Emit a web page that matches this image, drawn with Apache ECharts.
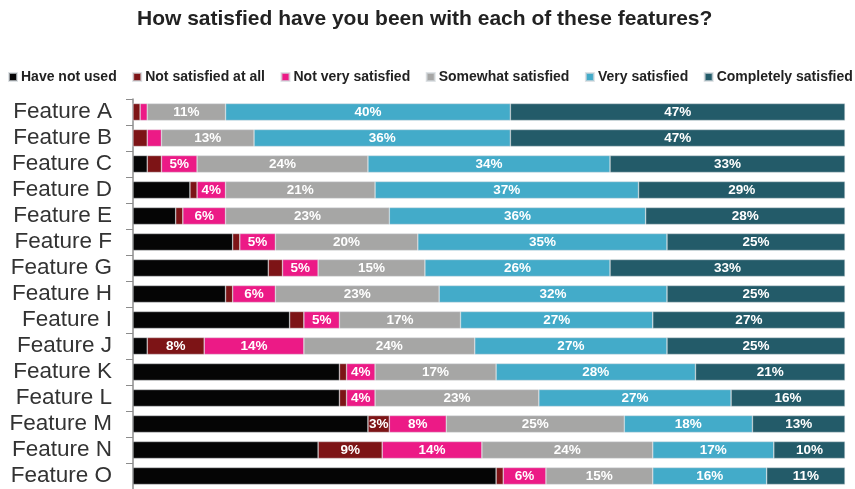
<!DOCTYPE html>
<html>
<head>
<meta charset="utf-8">
<script src="https://cdn.jsdelivr.net/npm/echarts@6/dist/echarts.min.js"></script>
<style>html,body{margin:0;padding:0;background:#fff;}#c{width:855px;height:489px;}</style>
</head>
<body>
<div id="c"></div>
<script>
const categories = ['Feature A','Feature B','Feature C','Feature D','Feature E','Feature F','Feature G','Feature H','Feature I','Feature J','Feature K','Feature L','Feature M','Feature N','Feature O'];
const seriesNames = ['Have not used','Not satisfied at all','Not very satisfied','Somewhat satisfied','Very satisfied','Completely satisfied'];
const haveNotUsed =        [0, 0, 2, 8, 6, 14, 19, 13, 22, 2, 29, 29, 33, 26, 51];
const notSatisfiedAtAll =  [1, 2, 2, 1, 1, 1, 2, 1, 2, 8, 1, 1, 3, 9, 1];
const notVerySatisfied =   [1, 2, 5, 4, 6, 5, 5, 6, 5, 14, 4, 4, 8, 14, 6];
const somewhatSatisfied =  [11, 13, 24, 21, 23, 20, 15, 23, 17, 24, 17, 23, 25, 24, 15];
const verySatisfied =      [40, 36, 34, 37, 36, 35, 26, 32, 27, 27, 28, 27, 18, 17, 16];
const completelySatisfied =[47, 47, 33, 29, 28, 25, 33, 25, 27, 25, 21, 16, 13, 10, 11];

const values = [haveNotUsed, notSatisfiedAtAll, notVerySatisfied, somewhatSatisfied, verySatisfied, completelySatisfied];
const colors = ['#050505', '#7d1416', '#ec1a86', '#a6a6a5', '#43abc9', '#235b69'];

const chart = echarts.init(document.getElementById('c'));
const FONT = '"Liberation Sans", Arial, sans-serif';
chart.setOption({
  animation: false,
  title: {
    text: 'How satisfied have you been with each of these features?',
    left: 132,
    top: 4,
    textStyle: { fontFamily: FONT, fontSize: 21, fontWeight: 'bold', color: '#222' }
  },
  legend: {
    data: seriesNames,
    left: 3,
    top: 65,
    width: 852,
    icon: 'rect',
    itemWidth: 8,
    itemHeight: 8,
    itemGap: 15.5,
    textStyle: { fontFamily: FONT, fontSize: 14, fontWeight: 'bold', color: '#222', padding: [0, 0, 0, -1] }
  },
  grid: { left: 133, right: 10, top: 99, bottom: -3, containLabel: false },
  xAxis: { type: 'value', min: 0, max: 100, show: false },
  yAxis: {
    type: 'category',
    data: categories,
    inverse: true,
    axisLine: { show: true, lineStyle: { color: '#8c8c8c', width: 1.5 } },
    axisTick: { show: true, length: 7, interval: 0, lineStyle: { color: '#8c8c8c', width: 1 } },
    axisLabel: { interval: 0, fontFamily: FONT, fontSize: 22.5, color: '#333', margin: 21 }
  },
  series: seriesNames.map((name, i) => ({
    name: name,
    type: 'bar',
    stack: 'total',
    barWidth: 17,
    data: values[i],
    itemStyle: { color: colors[i], borderColor: 'rgba(210,215,220,0.7)', borderWidth: 0.6 },
    label: {
      show: i > 0,
      position: 'inside',
      color: '#fff',
      fontFamily: FONT,
      fontSize: 13.5,
      fontWeight: 'bold',
      formatter: p => (p.value >= 3 ? p.value + '%' : '')
    }
  }))
});
</script>
</body>
</html>
